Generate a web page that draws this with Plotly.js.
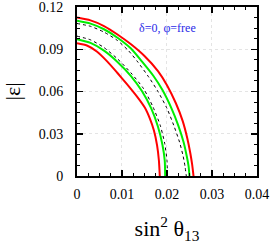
<!DOCTYPE html>
<html><head><meta charset="utf-8">
<script src="https://cdn.plot.ly/plotly-3.0.1.min.js"></script>
<style>html,body{margin:0;padding:0;background:#fff}#c{width:274px;height:244px}</style>
</head><body><div id="c"></div>
<script>
// red outer
const roX = [0, 0.003, 0.006, 0.009, 0.012, 0.015, 0.018, 0.020, 0.022, 0.0235, 0.0245, 0.0252, 0.0256, 0.0259];
const roY = [0.1125, 0.1105, 0.1065, 0.1005, 0.0935, 0.0852, 0.0745, 0.0645, 0.0515, 0.039, 0.027, 0.016, 0.008, 0];
// green outer
const goX = [0, 0.003, 0.006, 0.009, 0.012, 0.0144, 0.017, 0.019, 0.021, 0.0225, 0.0237, 0.0244, 0.0248, 0.0250];
const goY = [0.1102, 0.1082, 0.1042, 0.0982, 0.0905, 0.0814, 0.071, 0.061, 0.048, 0.036, 0.024, 0.014, 0.007, 0];
// dashed outer
const doX = [0, 0.003, 0.006, 0.009, 0.0115, 0.0135, 0.016, 0.018, 0.020, 0.0215, 0.0228, 0.0236, 0.0240, 0.0243];
const doY = [0.1083, 0.1063, 0.1022, 0.0962, 0.0888, 0.081, 0.070, 0.060, 0.048, 0.036, 0.024, 0.014, 0.007, 0];
// dashed inner
const diX = [0, 0.003, 0.006, 0.009, 0.012, 0.0148, 0.0169, 0.0185, 0.0195, 0.0200, 0.0201];
const diY = [0.0993, 0.0967, 0.0912, 0.0832, 0.0732, 0.062, 0.049, 0.036, 0.023, 0.011, 0];
// green inner
const giX = [0, 0.003, 0.006, 0.009, 0.012, 0.0145, 0.0165, 0.0180, 0.0190, 0.0195, 0.0196];
const giY = [0.0971, 0.0945, 0.089, 0.081, 0.071, 0.060, 0.048, 0.035, 0.022, 0.011, 0];
// red inner
const riX = [0, 0.0022, 0.0044, 0.0067, 0.0089, 0.0111, 0.0133, 0.0151, 0.0162, 0.0171, 0.0178, 0.0182, 0.0184];
const riY = [0.0943, 0.0927, 0.0884, 0.0814, 0.0735, 0.0652, 0.0565, 0.0484, 0.0407, 0.0323, 0.0218, 0.0112, 0];

const xTicks = [0, 0.01, 0.02, 0.03, 0.04];
const xTickText = ['0', '0.01', '0.02', '0.03', '0.04'];
const yTicks = [0, 0.03, 0.06, 0.09, 0.12];
const yTickText = ['0', '0.03', '0.06', '0.09', '0.12'];
const label = 'δ=0, φ=free';

const red = {color: '#ff0000', width: 2};
const green = {color: '#00ee00', width: 2};
const dash = {color: '#000000', width: 1, dash: '3px,3px'};
const mk = (x, y, line) => ({x, y, mode: 'lines', line: Object.assign({shape: 'spline', smoothing: 0.6}, line), hoverinfo: 'skip'});
const data = [
  mk(roX, roY, red), mk(riX, riY, red),
  mk(goX, goY, green), mk(giX, giY, green),
  mk(doX, doY, dash), mk(diX, diY, dash)
];
const FAM = 'Liberation Serif, DejaVu Serif, serif';
const font = {family: FAM, color: '#000', size: 14};
const axBase = {
  showline: true, linecolor: '#000', linewidth: 2, mirror: 'allticks',
  ticks: 'inside', ticklen: 6, tickwidth: 1.5, tickcolor: '#000',
  showgrid: true, gridcolor: '#e4e4e4', griddash: 'dot', gridwidth: 1,
  zeroline: false, tickfont: font, tickmode: 'array', ticklabeloverflow: 'allow',
  minor: {ticks: 'inside', ticklen: 3, tickwidth: 1, tickcolor: '#000', showgrid: false}
};
const layout = {
  width: 274, height: 244, margin: {l: 77, r: 17, t: 7, b: 68},
  paper_bgcolor: '#fff', plot_bgcolor: '#fff', showlegend: false,
  font: font,
  xaxis: Object.assign({}, axBase, {
    range: [0, 0.04001], tickvals: xTicks, ticktext: xTickText, ticklabelstandoff: 4,
    minor: Object.assign({}, axBase.minor, {dtick: 0.0025, tick0: 0}),
    title: {text: 'sin<sup>2</sup> θ<sub>13</sub>', font: {family: FAM, size: 22, color: '#000'}, standoff: 20}
  }),
  yaxis: Object.assign({}, axBase, {
    range: [0, 0.12001], tickvals: yTicks, ticktext: yTickText, ticklabelstandoff: 9,
    minor: Object.assign({}, axBase.minor, {dtick: 0.0075, tick0: 0}),
    title: {text: '|ε|', font: {family: FAM, size: 22, color: '#000'}, standoff: 30}
  }),
  annotations: [{
    text: label, xref: 'paper', yref: 'paper', x: 0.5, y: 0.875, xanchor: 'center', yanchor: 'middle',
    showarrow: false, font: {family: FAM, size: 12, color: '#2a2ae8'}
  }]
};
Plotly.newPlot('c', data, layout, {staticPlot: true, displayModeBar: false});
</script></body></html>
